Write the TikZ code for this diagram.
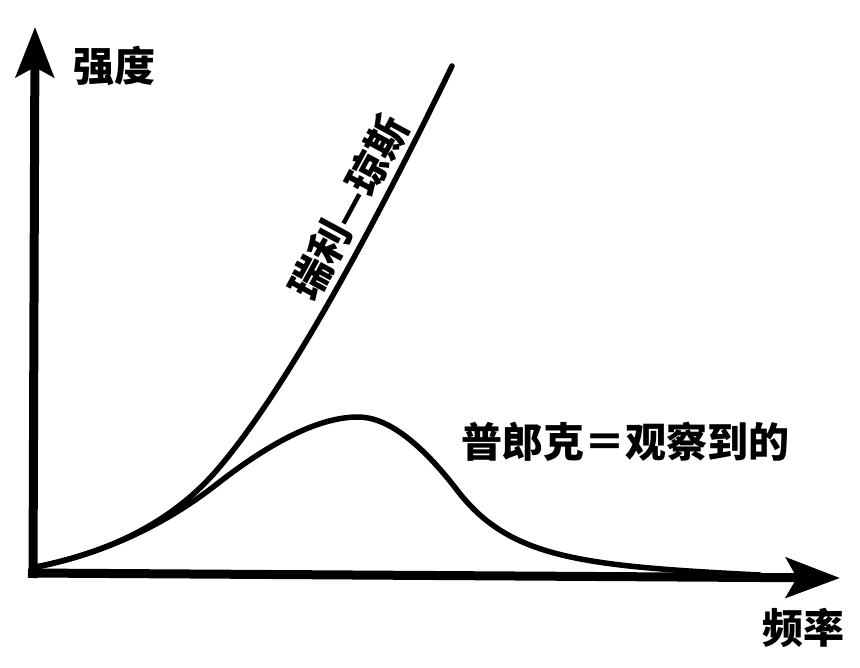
\documentclass[tikz,border=0pt]{standalone}
\usepackage{fontspec}
\newfontfamily\cjk{Noto Sans CJK SC}
\usetikzlibrary{arrows.meta}
\begin{document}
\begin{tikzpicture}[x=1pt,y=-1pt,
  axisline/.style={line width=9pt,-{Stealth[length=50pt,width=38pt,inset=10pt]}},
  curveline/.style={line width=5.5pt,line cap=round,line join=round},
  lbl/.style={font=\cjk\bfseries\fontsize{41pt}{44pt}\selectfont,inner sep=0pt}]
\useasboundingbox (0,0) rectangle (860,668);
\coordinate (ystart) at (33,578);
\coordinate (ytip) at (35,27);
\coordinate (xstart) at (28,573);
\coordinate (xtip) at (840,578);
\coordinate (c0) at (36,567);
\coordinate (rjmid) at (217,470);
\coordinate (rjend) at (452,66);
\coordinate (pa) at (217,484);
\coordinate (peak) at (358,417);
\coordinate (pinf) at (457,490);
\coordinate (pend) at (760,575);
\draw[axisline] (ystart) -- (ytip);
\draw[axisline,-{Stealth[length=54pt,width=40pt,inset=11pt]}] (xstart) -- (xtip);
% Rayleigh-Jeans
\draw[curveline] (c0) .. controls (114.4,551.3) and (174.7,519) .. (rjmid)
  .. controls (276.3,401.1) and (354.7,266.5) .. (rjend);
% Planck
\draw[curveline] (c0) .. controls (102.9,553.6) and (163.3,526) .. (pa)
  .. controls (274.3,439.3) and (321.3,417) .. (peak)
  .. controls (386.5,417) and (419.5,441.3) .. (pinf)
  .. controls (509,558) and (580,566) .. (pend);
\node[lbl] (ylabel) at (114,66) {强度};
\node[lbl] (xlabel) at (803,628) {频率};
\node[lbl] (planck) at (625,442) {普郎克＝观察到的};
\node[lbl,rotate=61.6] (rj) at (349,208) {瑞利—琼斯};
\end{tikzpicture}
\end{document}
